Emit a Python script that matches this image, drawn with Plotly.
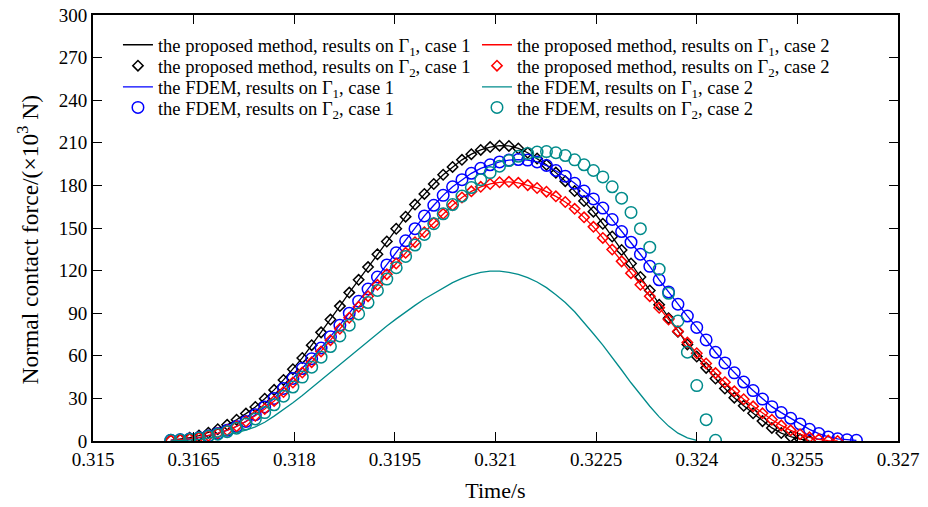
import plotly.graph_objects as go

# ---------------- data ----------------
time_s = [0.31616, 0.31630, 0.31644, 0.31658, 0.31672, 0.31686, 0.31700, 0.31714, 0.31728, 0.31742,
          0.31756, 0.31770, 0.31784, 0.31798, 0.31812, 0.31826, 0.31840, 0.31854, 0.31868, 0.31882,
          0.31896, 0.31910, 0.31924, 0.31938, 0.31952, 0.31966, 0.31980, 0.31994, 0.32008, 0.32022,
          0.32036, 0.32050, 0.32064, 0.32078, 0.32092, 0.32106, 0.32120, 0.32134, 0.32148, 0.32162,
          0.32176, 0.32190, 0.32204, 0.32218, 0.32232, 0.32246, 0.32260, 0.32274, 0.32288, 0.32302,
          0.32316, 0.32330, 0.32344, 0.32358, 0.32372, 0.32386, 0.32400, 0.32414, 0.32428, 0.32442,
          0.32456, 0.32470, 0.32484, 0.32498, 0.32512, 0.32526, 0.32540, 0.32554, 0.32568, 0.32582,
          0.32596, 0.32610, 0.32624, 0.32638]

# proposed method, case 1 (Gamma1 line and Gamma2 markers coincide)
proposed_case1 = [0.5, 1.2, 2.3, 3.8, 5.8, 8.3, 11.4, 15.0, 19.3, 24.0,
                  29.8, 36.0, 43.0, 50.5, 58.5, 67.5, 76.5, 85.5, 95.0, 104.5,
                  113.5, 122.5, 131.5, 140.5, 149.5, 158.0, 166.5, 174.0, 181.0, 187.5,
                  193.0, 198.0, 202.0, 205.0, 207.0, 208.0, 207.8, 206.0, 203.0, 199.0,
                  194.5, 189.0, 183.0, 176.0, 169.0, 161.5, 153.0, 144.0, 134.5, 125.0,
                  115.5, 106.0, 96.0, 86.5, 77.0, 68.0, 59.5, 51.5, 44.0, 37.0,
                  30.5, 24.8, 19.5, 14.0, 9.2, 5.6, 3.0, 1.3, 0.3]

# proposed method, case 2
proposed_case2 = [0.5, 0.9, 1.5, 2.4, 3.7, 5.4, 7.6, 10.3, 13.7, 17.8,
                  22.6, 28.2, 34.5, 41.2, 48.2, 55.5, 63.0, 71.0, 79.0, 86.8,
                  94.5, 102.0, 110.0, 117.5, 125.0, 132.5, 140.0, 147.0, 153.5, 160.0,
                  166.0, 171.5, 175.8, 179.0, 181.0, 182.2, 182.5, 181.8, 180.2, 178.2,
                  175.6, 172.3, 168.3, 163.5, 157.5, 150.8, 143.0, 134.8, 126.5, 118.2,
                  110.0, 102.0, 93.8, 85.5, 77.3, 69.3, 61.8, 54.6, 47.8, 41.4,
                  35.0, 29.4, 24.4, 19.5, 15.0, 11.0, 7.5, 4.8, 2.6, 1.2,
                  0.3, 0.0]

# FDEM, case 1 (Gamma1 line and Gamma2 markers coincide)
fdem_case1 = [0.5, 0.8, 1.4, 2.3, 3.6, 5.3, 7.5, 10.2, 13.8, 18.5,
              24.0, 30.0, 37.0, 44.0, 51.0, 58.0, 65.5, 73.5, 81.5, 90.0,
              98.5, 107.0, 115.5, 124.0, 132.5, 141.0, 149.5, 158.5, 166.0, 173.0,
              179.0, 184.0, 188.5, 192.0, 194.5, 196.5, 197.8, 198.2, 197.8, 196.5,
              194.0, 190.5, 186.5, 181.5, 176.0, 170.5, 164.0, 156.0, 147.5, 140.0,
              131.5, 123.0, 113.5, 105.0, 96.3, 88.0, 80.0, 71.2, 62.5, 55.0,
              48.0, 41.5, 35.5, 29.5, 24.2, 20.0, 16.0, 12.0, 8.2, 5.2,
              2.9, 1.5, 0.8, 0.5]

# FDEM, case 2, results on Gamma1 (line)
fdem_case2_g1 = [0.0, 0.2, 0.6, 1.2, 2.0, 3.0, 4.3, 5.8, 7.6, 10.0,
                 13.2, 17.5, 22.0, 27.0, 32.0, 37.5, 43.0, 48.5, 54.0, 59.5,
                 65.0, 70.5, 76.0, 81.0, 86.0, 91.0, 95.5, 100.0, 104.0, 108.0,
                 111.5, 114.5, 117.0, 118.8, 119.6, 119.6, 118.8, 117.3, 115.0, 112.0,
                 108.0, 103.0, 97.5, 91.0, 83.5, 75.5, 67.5, 59.0, 50.0, 41.0,
                 32.5, 24.5, 17.0, 10.5, 5.5, 2.2, 0.5]

# FDEM, case 2, results on Gamma2 (markers)
fdem_case2_g2 = [0.5, 0.8, 1.3, 2.2, 3.3, 4.8, 6.6, 9.0, 12.0, 15.5,
                 20.0, 25.5, 31.5, 38.0, 45.0, 52.0, 59.0, 66.5, 74.0, 81.5,
                 89.5, 97.5, 106.0, 114.0, 122.0, 130.0, 138.0, 145.5, 153.0, 160.0,
                 166.5, 172.5, 178.5, 184.0, 189.0, 193.5, 197.5, 200.5, 202.5, 203.5,
                 203.8, 203.0, 201.0, 198.0, 194.5, 190.5, 186.0, 179.0, 171.0, 161.0,
                 149.5, 136.5, 121.0, 104.0, 84.5, 62.5, 39.0, 15.0, 0.5]

x_tickvals = [0.315, 0.3165, 0.318, 0.3195, 0.321, 0.3225, 0.324, 0.3255, 0.327]
x_ticktext = ["0.315", "0.3165", "0.318", "0.3195", "0.321", "0.3225", "0.324", "0.3255", "0.327"]
y_tickvals = [0, 30, 60, 90, 120, 150, 180, 210, 240, 270, 300]

names = [
    "the proposed method, results on Γ<sub>1</sub>, case 1",
    "the proposed method, results on Γ<sub>2</sub>, case 1",
    "the FDEM, results on Γ<sub>1</sub>, case 1",
    "the FDEM, results on Γ<sub>2</sub>, case 1",
    "the proposed method, results on Γ<sub>1</sub>, case 2",
    "the proposed method, results on Γ<sub>2</sub>, case 2",
    "the FDEM, results on Γ<sub>1</sub>, case 2",
    "the FDEM, results on Γ<sub>2</sub>, case 2",
]

BLACK = "#000000"
RED = "#ff0000"
BLUE = "#0000ff"
TEAL = "#008b8b"
FONT = "Liberation Serif"

fig = go.Figure()

def line_trace(y, color, name, leg):
    return go.Scatter(x=time_s[:len(y)], y=y, mode="lines", name=name,
                      line=dict(color=color, width=1.3), legend=leg)

def marker_trace(y, color, symbol, size, name, leg):
    return go.Scatter(x=time_s[:len(y)], y=y, mode="markers", name=name,
                      marker=dict(symbol=symbol, size=size, color=color,
                                  line=dict(color=color, width=1.5)), legend=leg)

fig.add_trace(line_trace(proposed_case1, BLACK, names[0], "legend"))
fig.add_trace(marker_trace(proposed_case1, BLACK, "diamond-open", 8, names[1], "legend3"))
fig.add_trace(line_trace(fdem_case1, BLUE, names[2], "legend5"))
fig.add_trace(marker_trace(fdem_case1, BLUE, "circle-open", 11.5, names[3], "legend7"))
fig.add_trace(line_trace(proposed_case2, RED, names[4], "legend2"))
fig.add_trace(marker_trace(proposed_case2, RED, "diamond-open", 8, names[5], "legend4"))
fig.add_trace(line_trace(fdem_case2_g1, TEAL, names[6], "legend6"))
fig.add_trace(marker_trace(fdem_case2_g2, TEAL, "circle-open", 11.5, names[7], "legend8"))

row_y = [0.929, 0.880, 0.830, 0.782]
col_x = [0.031, 0.477]
legend_defs = {}
keys = ["legend", "legend2", "legend3", "legend4", "legend5", "legend6", "legend7", "legend8"]
for i, key in enumerate(keys):
    r, c = divmod(i, 2)
    legend_defs[key] = dict(x=col_x[c], y=row_y[r], xanchor="left", yanchor="middle",
                            bgcolor="rgba(0,0,0,0)", borderwidth=0,
                            font=dict(family=FONT, size=18.5, color="black"))

fig.update_layout(
    width=928, height=507,
    margin=dict(l=93, r=30, t=15, b=66, autoexpand=False),
    plot_bgcolor="white", paper_bgcolor="white",
    font=dict(family=FONT, color="black", size=18),
    showlegend=True,
    **legend_defs,
)

fig.update_xaxes(range=[0.315, 0.327], tickvals=x_tickvals, ticktext=x_ticktext,
                 automargin=False,
                 showgrid=False, zeroline=False, showline=True, linecolor="black", linewidth=1.8,
                 mirror="ticks", ticks="inside", ticklen=9, tickwidth=1, tickcolor="black",
                 tickfont=dict(family=FONT, size=19),
                 title=dict(text="Time/s", font=dict(family=FONT, size=22), standoff=14))
fig.update_yaxes(range=[0, 300], tickvals=y_tickvals,
                 automargin=False,
                 showgrid=False, zeroline=False, showline=True, linecolor="black", linewidth=1.8,
                 mirror="ticks", ticks="inside", ticklen=9, tickwidth=1, tickcolor="black",
                 tickfont=dict(family=FONT, size=19),
                 title=dict(text="Normal contact force/(×10<sup>3</sup> N)&nbsp;&nbsp;&nbsp;&nbsp;",
                            font=dict(family=FONT, size=23.5), standoff=14))

fig.write_html("out.html")
